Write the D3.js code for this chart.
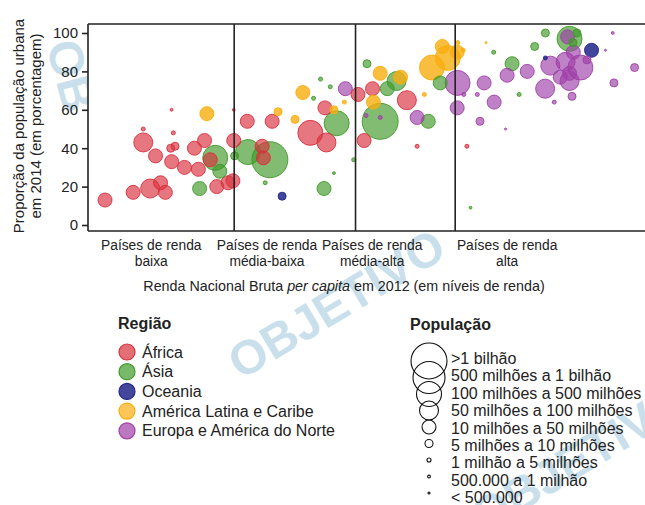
<!DOCTYPE html>
<html>
<head>
<meta charset="utf-8">
<script src="https://cdn.jsdelivr.net/npm/d3@7"></script>
<style>
  body { margin: 0; background: #fff; }
</style>
</head>
<body>
<div id="chart"></div>
<script>
// income groups, World Bank 2012 limits (GNI per capita, US$)
var incomeGroups = [["Países de renda", "baixa"], ["Países de renda", "média-baixa"],
                    ["Países de renda", "média-alta"], ["Países de renda", "alta"]];
var incomeBreaks = [1035, 4085, 12615];
var incomeLabelAt = [405, 1500, 4930, 22700];
var yTicks = [0, 20, 40, 60, 80, 100];

var regionNames = ["África", "Ásia", "Oceania", "América Latina e Caribe", "Europa e América do Norte"];

// one row per country: [GNI per capita 2012, % urban 2014, population (millions)]
var africa = [
  [240, 13, 10.5], [330, 17, 16], [400, 19, 92], [450, 22, 22], [475, 17, 17],
  [370, 43, 66], [425, 36, 24], [505, 40, 7], [530, 41, 7], [510, 33, 26],
  [590, 30, 23], [660, 40, 14], [740, 44, 12], [790, 34, 19], [690, 29, 13],
  [850, 20, 45], [965, 22, 38], [1030, 44, 21], [1020, 23, 25], [1200, 54, 22],
  [1590, 54, 26], [2890, 61, 33], [2450, 48, 173], [2940, 43, 82], [1420, 41, 37],
  [1440, 35, 15], [4950, 71, 39], [4200, 68, 11], [7300, 65, 53], [4500, 44, 13],
  [8200, 41, 1.2], [14400, 41, 1.3], [510, 60, 0.8], [370, 50, 1.8], [520, 48, 1.9],
  [1030, 60, 0.9]
];
var asia = [
  [835, 35, 155], [700, 19, 28], [880, 28, 30], [1040, 36, 7], [1550, 34, 1250],
  [1210, 38, 180], [2860, 19, 20], [3300, 53, 250], [4650, 84, 7], [6500, 75, 77],
  [5850, 71, 33], [5400, 54, 1360], [9300, 54, 22], [10650, 74, 30], [24000, 84, 29],
  [31000, 93, 8], [35000, 100, 5.4], [46000, 97, 127], [50000, 100, 8], [26000, 68, 1.5],
  [19500, 90, 1.1], [2750, 76, 1.2], [3070, 72, 1.1], [2540, 66, 1.3], [1470, 22, 1.2],
  [4000, 34, 1.4], [3200, 27, 0.8], [15000, 9, 0.9], [47800, 95, 7.2]
];
var oceania = [
  [1780, 15, 7.3], [59000, 91, 23], [35000, 87, 1.1]
];
var latam = [
  [760, 58, 10.3], [1700, 59, 7], [2250, 69, 12], [2060, 55, 6.5], [3200, 60, 6.8],
  [3600, 64, 3], [5400, 79, 30], [6800, 77, 16], [5000, 64, 12], [8900, 68, 3.2],
  [9700, 82, 122], [11600, 87, 200], [10900, 93, 30], [12900, 90, 17], [13800, 91, 3.4],
  [13000, 95, 1.3], [17900, 95, 0.4]
];
var europe = [
  [3640, 71, 45], [4600, 57, 3.1], [5400, 56, 2.9], [8200, 56, 12], [12950, 74, 143],
  [12900, 61, 10], [17500, 74, 38], [22700, 78, 10.5], [28500, 80, 47], [19600, 64, 19],
  [16700, 54, 5.4], [34900, 71, 60], [13900, 68, 2.1], [16200, 68, 1.3], [22300, 50, 0.4],
  [37000, 83, 64], [44000, 85, 66], [52000, 82, 316], [46000, 79, 35], [41400, 77, 16.8],
  [47300, 67, 5.6], [76000, 74, 8], [96000, 82, 5.1], [38700, 64, 1.3], [45000, 98, 11],
  [46000, 75, 81], [48000, 90, 17], [56000, 86, 9.6], [75000, 100, 0.5], [69000, 91, 0.4]
];

var popLabels = [">1 bilhão", "500 milhões a 1 bilhão", "100 milhões a 500 milhões",
  "50 milhões a 100 milhões", "10 milhões a 50 milhões", "5 milhões a 10 milhões",
  "1 milhão a 5 milhões", "500.000 a 1 milhão", "< 500.000"];
var popBreaks = [0.5, 1, 5, 10, 50, 100, 500, 1000];

var regionColors = ["#d9303c", "#3f9a2a", "#22268a", "#f9ae10", "#a040a8"];

var W = 645, H = 505;
var svg = d3.select("#chart").append("svg")
  .attr("width", W).attr("height", H)
  .attr("viewBox", `0 0 ${W} ${H}`)
  .attr("font-family", "Liberation Sans, Arial, sans-serif");

var x = d3.scaleLog().domain([198, 128000]).range([88, 660]);
var y = d3.scaleLinear().domain([0, 100]).range([225, 33]);
var r = d3.scaleThreshold().domain(popBreaks).range([1, 1.4, 2, 4, 7, 9.5, 12.5, 16, 18]);
var color = d3.scaleOrdinal().domain(d3.range(5)).range(regionColors);

var plotTop = 24, plotBottom = 231, plotLeft = 88, plotRight = 660;

// watermark from the scanned page
var wm = svg.append("g").attr("fill", "#c9e0ec").attr("font-weight", "bold")
  .attr("font-size", 48).attr("text-anchor", "middle");
wm.append("text").attr("transform", "translate(345,318) rotate(-31)").text("OBJETIVO");
wm.append("text").attr("transform", "translate(588,472) rotate(-31)").text("OBJETIVO");
wm.append("text").attr("transform", "translate(46,45) rotate(75)").attr("text-anchor", "start").text("OB");

// plot background
svg.append("rect").attr("x", plotLeft).attr("y", plotTop)
  .attr("width", plotRight - plotLeft).attr("height", plotBottom - plotTop)
  .attr("fill", "#fff").attr("opacity", 0.93);

// bubbles
var rows = [];
[africa, asia, oceania, latam, europe].forEach(function(list, ri) {
  list.forEach(function(d) { rows.push({gni: d[0], urban: d[1], pop: d[2], region: ri}); });
});
rows.sort(function(a, b) { return b.pop - a.pop; });

var defs = svg.append("defs");
defs.append("filter").attr("id", "soft").append("feGaussianBlur").attr("stdDeviation", 0.55);
defs.append("clipPath").attr("id", "plotclip").append("rect")
  .attr("x", plotLeft).attr("y", plotTop)
  .attr("width", plotRight - plotLeft).attr("height", plotBottom - plotTop);

svg.append("g").attr("clip-path", "url(#plotclip)").append("g").attr("filter", "url(#soft)")
  .selectAll("circle")
  .data(rows)
  .join("circle")
    .attr("cx", d => x(d.gni))
    .attr("cy", d => y(d.urban))
    .attr("r", d => r(d.pop))
    .attr("fill", d => color(d.region))
    .attr("fill-opacity", d => d.region == 2 ? 0.85 : (d.region == 3 ? 0.8 : 0.66))
    .attr("stroke", d => color(d.region))
    .attr("stroke-opacity", 0.9)
    .attr("stroke-width", 1);

// frame and income dividers
var frame = svg.append("g").attr("stroke", "#222").attr("stroke-width", 1.6);
frame.append("line").attr("x1", plotLeft).attr("x2", plotRight).attr("y1", plotTop).attr("y2", plotTop);
frame.append("line").attr("x1", plotLeft).attr("x2", plotRight).attr("y1", plotBottom).attr("y2", plotBottom);
frame.append("line").attr("x1", plotLeft).attr("x2", plotLeft).attr("y1", plotTop).attr("y2", plotBottom);
frame.selectAll(".divider")
  .data(incomeBreaks)
  .join("line")
    .attr("x1", d => x(d)).attr("x2", d => x(d))
    .attr("y1", plotTop).attr("y2", plotBottom);

// y axis
var yAxis = svg.append("g")
  .attr("transform", `translate(${plotLeft},0)`)
  .call(d3.axisLeft(y).tickValues(yTicks).tickSize(6).tickPadding(4));
yAxis.select(".domain").remove();
yAxis.selectAll("line").attr("stroke", "#222").attr("stroke-width", 1.6);
yAxis.selectAll("text").attr("font-size", 15).attr("fill", "#222")
  .attr("font-family", "Liberation Sans, Arial, sans-serif");

svg.append("text")
  .attr("transform", "translate(24,126) rotate(-90)")
  .attr("text-anchor", "middle").attr("font-size", 15).attr("fill", "#222")
  .text("Proporção da população urbana");
svg.append("text")
  .attr("transform", "translate(41,126) rotate(-90)")
  .attr("text-anchor", "middle").attr("font-size", 15).attr("fill", "#222")
  .text("em 2014 (em porcentagem)");

// income group labels
var cat = svg.append("g").attr("font-size", 13.8).attr("fill", "#222").attr("text-anchor", "middle");
incomeGroups.forEach(function(lines, i) {
  var t = cat.append("text").attr("x", x(incomeLabelAt[i])).attr("y", 250);
  t.append("tspan").attr("x", x(incomeLabelAt[i])).text(lines[0]);
  t.append("tspan").attr("x", x(incomeLabelAt[i])).attr("dy", 15.5).text(lines[1]);
});

var xt = svg.append("text").attr("x", 344).attr("y", 291).attr("text-anchor", "middle")
  .attr("font-size", 14.3).attr("fill", "#222");
xt.append("tspan").text("Renda Nacional Bruta ");
xt.append("tspan").attr("font-style", "italic").text("per capita");
xt.append("tspan").text(" em 2012 (em níveis de renda)");

// region legend
var lg = svg.append("g").attr("font-size", 16).attr("fill", "#222");
lg.append("text").attr("x", 118).attr("y", 329).attr("font-weight", "bold").text("Região");
var li = lg.selectAll(".reg")
  .data(regionNames)
  .join("g")
    .attr("transform", (d, i) => `translate(127,${352 + i * 19.7})`);
li.append("circle").attr("r", 8)
  .attr("fill", (d, i) => color(i)).attr("fill-opacity", (d, i) => i == 2 ? 0.85 : 0.7)
  .attr("stroke", (d, i) => color(i)).attr("stroke-width", 1.2);
li.append("text").attr("x", 15).attr("y", 5.5).text(d => d);

// population legend
var pg = svg.append("g").attr("font-size", 16).attr("fill", "#222");
pg.append("text").attr("x", 410).attr("y", 330).attr("font-weight", "bold").text("População");
var sizes = r.range().slice().reverse();
pg.selectAll(".pc")
  .data(sizes)
  .join("circle")
    .attr("cx", 429)
    .attr("cy", (d, i) => 361 + i * 16.5)
    .attr("r", d => d)
    .attr("fill", "none").attr("stroke", "#111").attr("stroke-width", 1.1);
pg.selectAll(".pt")
  .data(popLabels)
  .join("text")
    .attr("x", 451)
    .attr("y", (d, i) => 364 + i * 17.4)
    .text(d => d);
</script>
</body>
</html>
